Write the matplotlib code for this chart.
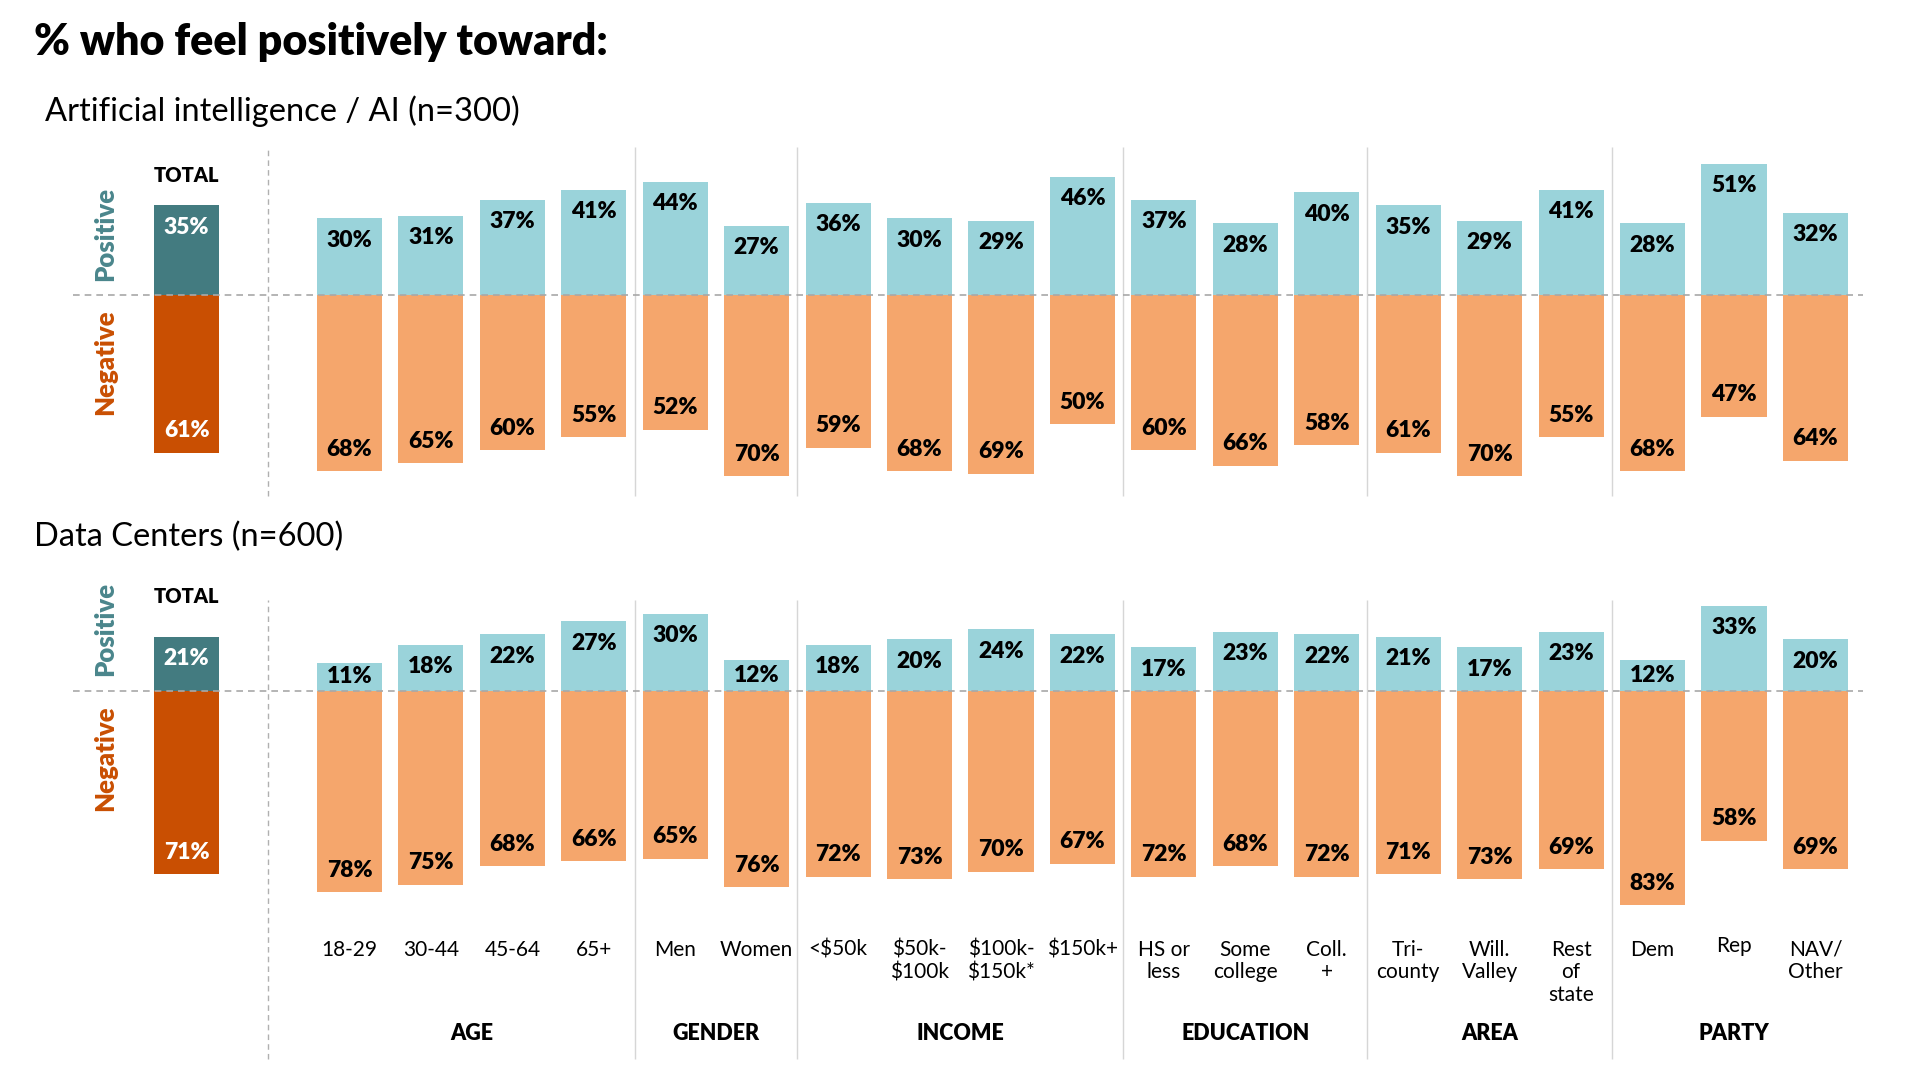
import matplotlib.pyplot as plt

# ---- data ----
categories = ["18-29", "30-44", "45-64", "65+", "Men", "Women",
              "<$50k", "$50k-\n$100k", "$100k-\n$150k*", "$150k+",
              "HS or\nless", "Some\ncollege", "Coll.\n+",
              "Tri-\ncounty", "Will.\nValley", "Rest\nof\nstate",
              "Dem", "Rep", "NAV/\nOther"]
groups = ["AGE", "GENDER", "INCOME", "EDUCATION", "AREA", "PARTY"]
group_sizes = [4, 2, 4, 3, 3, 3]

ai_title = "Artificial intelligence / AI (n=300)"
ai_total = [35, 61]
ai_pos = [30, 31, 37, 41, 44, 27, 36, 30, 29, 46, 37, 28, 40, 35, 29, 41, 28, 51, 32]
ai_neg = [68, 65, 60, 55, 52, 70, 59, 68, 69, 50, 60, 66, 58, 61, 70, 55, 68, 47, 64]

dc_title = "Data Centers (n=600)"
dc_total = [21, 71]
dc_pos = [11, 18, 22, 27, 30, 12, 18, 20, 24, 22, 17, 23, 22, 21, 17, 23, 12, 33, 20]
dc_neg = [78, 75, 68, 66, 65, 76, 72, 73, 70, 67, 72, 68, 72, 71, 73, 69, 83, 58, 69]

TEAL_DARK = "#437B80"
ORANGE_DARK = "#C94F02"
TEAL_LIGHT = "#9AD3DA"
ORANGE_LIGHT = "#F5A66C"
TEAL_TEXT = "#4A868C"

plt.rcParams["font.family"] = ["Lato", "DejaVu Sans"]

W, H = 1920, 1080
PX_PER_PCT = 2.58   # vertical pixels per percentage point
SLOT = 81.44        # horizontal pixels per bar slot
X_TOTAL = 186.6     # pixel centre of the TOTAL bar
BAR_W = 0.8
LABEL_OFF = 8.5     # label offset from bar end, in %
HEAVY = "heavy"
LABEL_SIZE = 16.5

fig = plt.figure(figsize=(19.2, 10.8), dpi=100)


def make_panel(baseline_px):
    # full-figure transparent axes; baseline_px = pixel row of the zero line
    ax = fig.add_axes([0, 0, 1, 1])
    ax.set_xlim(-2 - X_TOTAL / SLOT, -2 + (W - X_TOTAL) / SLOT)
    ax.set_ylim(-(H - baseline_px) / PX_PER_PCT, baseline_px / PX_PER_PCT)
    ax.axis("off")
    ax.patch.set_alpha(0)
    return ax


def draw_panel(ax, total, pos, neg, line_top, line_bot, total_y):
    xs = list(range(len(pos)))

    # guide lines
    ax.hlines(0, -3.4, 18.58, colors="#A8A8A8", linestyles=(0, (4, 3)), lw=1.2, zorder=3)
    ax.vlines(-1, line_bot, line_top, colors="#B0B0B0", linestyles=(0, (4, 3)), lw=1.0)
    edge = -0.5
    for n in group_sizes[:-1]:
        edge += n
        ax.vlines(edge, line_bot, line_top, colors="#D6D6D6", lw=1.0)

    # total bar
    ax.bar(-2, total[0], width=BAR_W, color=TEAL_DARK, zorder=2)
    ax.bar(-2, -total[1], width=BAR_W, color=ORANGE_DARK, zorder=2)
    ax.text(-2, total[0] - min(LABEL_OFF, total[0] / 2), f"{total[0]}%",
            ha="center", va="center", color="white", fontsize=LABEL_SIZE, fontweight=HEAVY, zorder=4)
    ax.text(-2, -total[1] + LABEL_OFF, f"{total[1]}%",
            ha="center", va="center", color="white", fontsize=LABEL_SIZE, fontweight=HEAVY, zorder=4)
    ax.text(-2, total_y, "TOTAL", ha="center", va="center", fontsize=14.5, fontweight=HEAVY)

    ax.text(-3.0, 24, "Positive", rotation=90, ha="center", va="center",
            color=TEAL_TEXT, fontsize=18.5, fontweight=HEAVY)
    ax.text(-3.0, -26, "Negative", rotation=90, ha="center", va="center",
            color=ORANGE_DARK, fontsize=18.5, fontweight=HEAVY)

    # subgroup bars
    ax.bar(xs, pos, width=BAR_W, color=TEAL_LIGHT, zorder=2)
    ax.bar(xs, [-v for v in neg], width=BAR_W, color=ORANGE_LIGHT, zorder=2)
    for x, p, n in zip(xs, pos, neg):
        ax.text(x, p - min(LABEL_OFF, p / 2), f"{p}%", ha="center", va="center",
                fontsize=LABEL_SIZE, fontweight=HEAVY, zorder=4)
        ax.text(x, -n + LABEL_OFF, f"{n}%", ha="center", va="center",
                fontsize=LABEL_SIZE, fontweight=HEAVY, zorder=4)


ax_ai = make_panel(295.5)
draw_panel(ax_ai, ai_total, ai_pos, ai_neg, 57.5, -77.7, 46.7)

ax_dc = make_panel(691)
draw_panel(ax_dc, dc_total, dc_pos, dc_neg, 35.3, -142.6, 36.8)

# category and group labels under the lower panel
for x, lab in enumerate(categories):
    y = -95.0 if lab == "Rep" else -96.5
    ax_dc.text(x, y, lab, ha="center", va="top", fontsize=15, linespacing=1.15)
start = 0
for g, n in zip(groups, group_sizes):
    ax_dc.text(start + (n - 1) / 2, -132.6, g, ha="center", va="center",
               fontsize=15.5, fontweight=HEAVY)
    start += n

fig.text(34 / W, 1 - 42 / H, "% who feel positively toward:", ha="left", va="center",
         fontsize=31, fontweight=HEAVY)
fig.text(45 / W, 1 - 111 / H, ai_title, ha="left", va="center", fontsize=23.5)
fig.text(34 / W, 1 - 537 / H, dc_title, ha="left", va="center", fontsize=23.5)

fig.savefig("out.png", dpi=100)
